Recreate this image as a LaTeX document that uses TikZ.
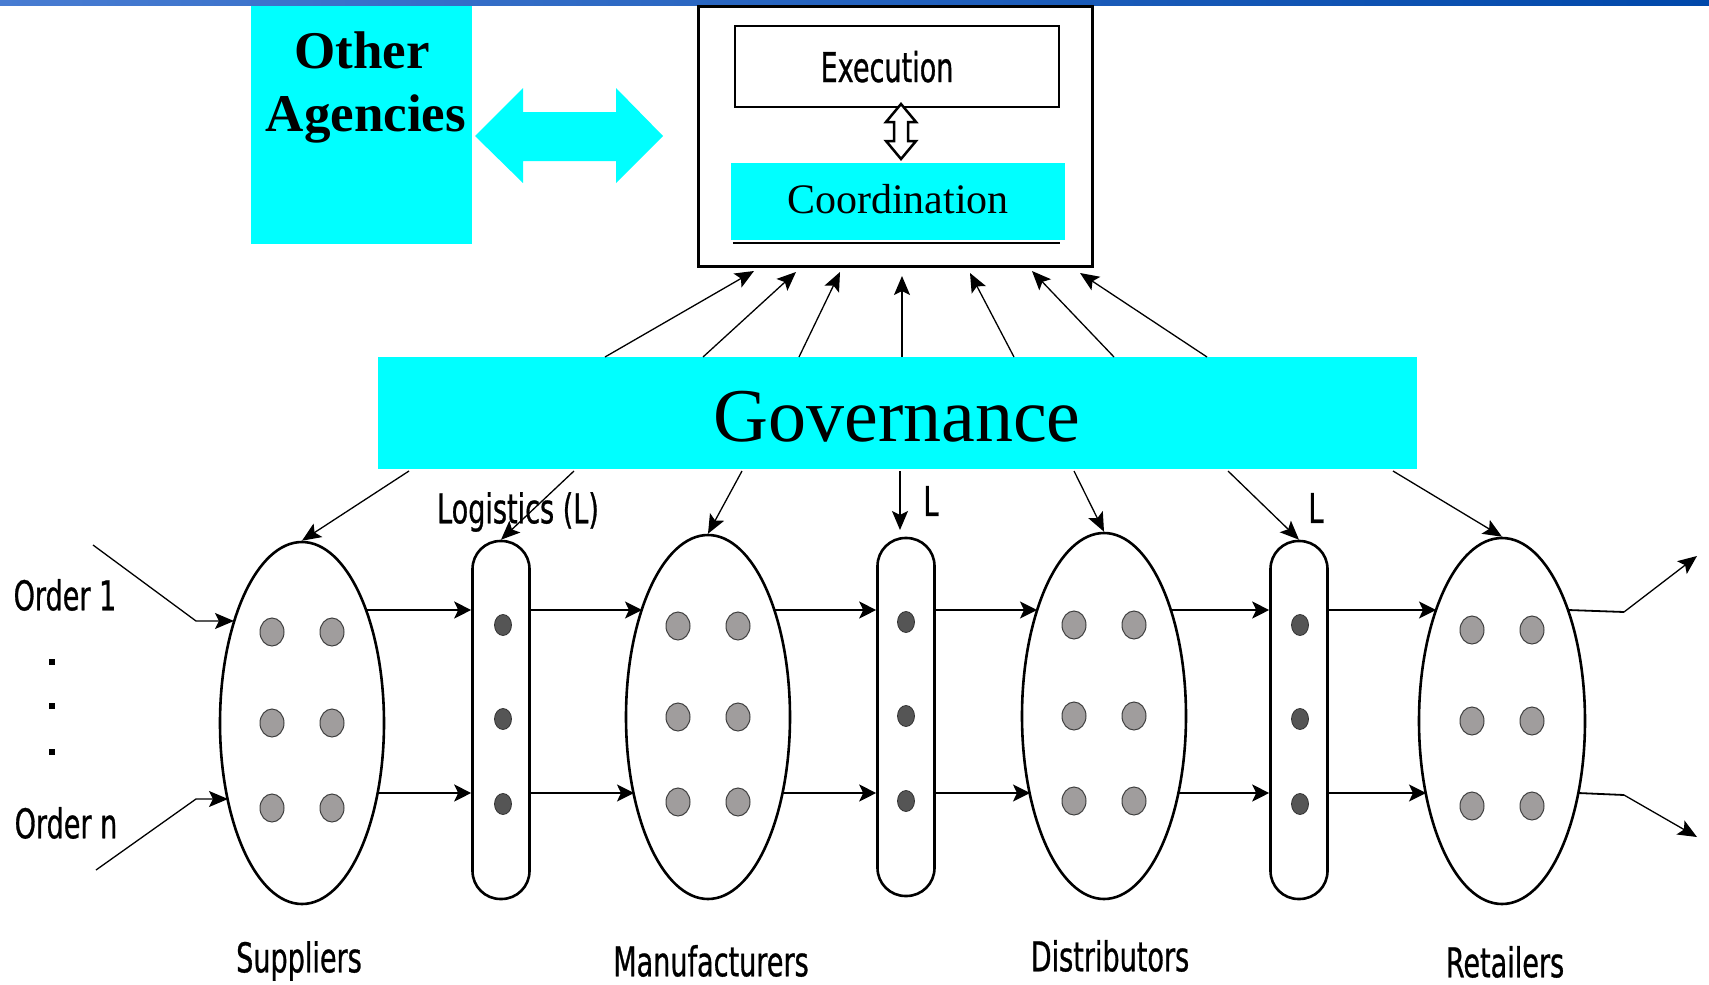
\documentclass[tikz,border=0pt]{standalone}
\usepackage{fontspec}
\setmainfont{Liberation Serif}
\newfontfamily\labelfont[FakeStretch=0.66,FakeBold=0.7]{DejaVu Sans}
\usetikzlibrary{arrows.meta,shapes.geometric}

\definecolor{aqua}{RGB}{0,255,255}
\definecolor{dotlight}{RGB}{160,157,157}
\definecolor{dotdark}{RGB}{85,85,85}
\definecolor{barleft}{RGB}{72,124,210}
\definecolor{barright}{RGB}{0,72,170}

\tikzset{
  flow/.style={line width=1.8pt,-{Stealth[length=17pt,width=17pt,inset=4pt]}},
  ctrl/.style={line width=1.3pt,-{Stealth[length=19pt,width=16pt,inset=4pt]}},
  stage/.style={ellipse,draw,line width=2.6pt,inner sep=0pt},
  pill/.style={rectangle,draw,line width=2.6pt,rounded corners=28pt,inner sep=0pt,
               minimum width=57pt,minimum height=358pt},
  member/.style={fill=dotlight,draw=black!75,line width=1pt},
  carrier/.style={fill=dotdark,draw=black!80,line width=0.8pt},
  sanslbl/.style={font=\labelfont\fontsize{41}{48}\selectfont,inner sep=0pt},
}

\begin{document}
\begin{tikzpicture}[x=1pt,y=-1pt]
\useasboundingbox (0,0) rectangle (1709,985);

% title bar
\shade[left color=barleft,right color=barright] (0,0) rectangle (1709,5);

% other agencies
\node (oa) [rectangle,fill=aqua,minimum width=221pt,minimum height=238pt,inner sep=0pt] at (361.5,124.5) {};
\node[anchor=base,inner sep=0pt,font=\bfseries\fontsize{53}{60}\selectfont] (oa1) at (362,68) {Other};
\node[anchor=base,inner sep=0pt,font=\bfseries\fontsize{53}{60}\selectfont] (oa2) at (366,131) {Agencies};

% link to the control block
\fill[aqua] (475,136) -- (523,88) -- (523,112) -- (616,112) -- (616,88) -- (663,136)
  -- (616,183) -- (616,161) -- (523,161) -- (523,183) -- cycle;

% control block
\node (ctl) [rectangle,draw,line width=3pt,minimum width=394pt,minimum height=260pt,inner sep=0pt] at (895,136.5) {};
\node (exe) [rectangle,draw,line width=2.5pt,minimum width=324pt,minimum height=81pt,inner sep=0pt] at (897,66.5) {};
\node[sanslbl,anchor=base] at (887,82) {Execution};
\node (coo) [rectangle,fill=aqua,minimum width=334pt,minimum height=77pt,inner sep=0pt] at (898,201.5) {};
\node[anchor=base,inner sep=0pt,font=\fontsize{42}{48}\selectfont] at (898,213) {Coordination};
\draw[line width=1.8pt] ([xshift=2pt,yshift=-3pt]coo.south west) -- ([xshift=-5pt,yshift=-3pt]coo.south east);

% hollow two-way arrow between execution and coordination
\draw[line width=2.5pt,fill=white,line join=miter]
  (901,104) -- (916,122) -- (908,122) -- (908,141) -- (916,141) -- (901,159)
  -- (886,141) -- (894,141) -- (894,122) -- (886,122) -- cycle;

% governance
\node (gov) [rectangle,fill=aqua,minimum width=1039pt,minimum height=112pt,inner sep=0pt] at (897.5,413) {};
\node[anchor=base,inner sep=0pt,font=\fontsize{76}{80}\selectfont] at (897,441) {Governance};

% governance reporting upward
\foreach \a/\b/\t in {605/754/271,703/796/272,799/840/272,902/902/276,1014/970/273,1114/1032/271,1207/1080/273}
  \draw[ctrl] (\a,357) -- (\b,\t);

% chain stages
\node (sup) [stage,minimum width=164pt,minimum height=362pt] at (302,723) {};
\node (man) [stage,minimum width=164pt,minimum height=364pt] at (708,717) {};
\node (dis) [stage,minimum width=164pt,minimum height=366pt] at (1104,716) {};
\node (ret) [stage,minimum width=166pt,minimum height=366pt] at (1502,721) {};
\node (lg1) [pill] at (501,720) {};
\node (lg2) [pill] at (906,717) {};
\node (lg3) [pill] at (1299,720) {};

% members of each stage
\foreach \cx/\cy in {302/723,708/717,1104/716,1502/721}{
  \foreach \dy in {-91,0,85}{
    \filldraw[member] (\cx-30,\cy+\dy) ellipse (12pt and 14pt);
    \filldraw[member] (\cx+30,\cy+\dy) ellipse (12pt and 14pt);
  }
}
% carriers
\foreach \cx/\cy in {503/720,906/717,1300/720}{
  \foreach \dy in {-95,-1,84}
    \filldraw[carrier] (\cx,\cy+\dy) ellipse (8.5pt and 10.5pt);
}

% governance directives downward
\draw[ctrl] (409,471) -- (sup.north);
\draw[ctrl] (574,471) -- (lg1.north);
\draw[ctrl] (742,471) -- (man.north);
\draw[ctrl] (900,471) -- (900,530);
\draw[ctrl] (1074,471) -- (dis.north);
\draw[ctrl] (1228,471) -- (lg3.north);
\draw[ctrl] (1393,471) -- (ret.north);

% material flow, two order streams
\draw[flow] (366,610) -- (lg1.west |- 0,610);
\draw[flow] (378,793) -- (lg1.west |- 0,793);
\draw[flow] (lg1.east |- 0,610) -- (642,610);
\draw[flow] (lg1.east |- 0,793) -- (634,793);
\draw[flow] (774,610) -- (lg2.west |- 0,610);
\draw[flow] (782,793) -- (lg2.west |- 0,793);
\draw[flow] (lg2.east |- 0,610) -- (1037,610);
\draw[flow] (lg2.east |- 0,793) -- (1030,793);
\draw[flow] (1171,610) -- (lg3.west |- 0,610);
\draw[flow] (1178,793) -- (lg3.west |- 0,793);
\draw[flow] (lg3.east |- 0,610) -- (1436,610);
\draw[flow] (lg3.east |- 0,793) -- (1426,793);

% outputs
\coordinate (out1) at (1697,556);
\coordinate (out2) at (1697,837);
\draw[line width=1.8pt] (1568,610) -- (1624,612);
\draw[ctrl] (1624,612) -- (out1);
\draw[line width=1.8pt] (1578,793) -- (1624,795);
\draw[ctrl] (1624,795) -- (out2);

% incoming orders
\coordinate (in1) at (93,545);
\coordinate (in2) at (96,870);
\draw[ctrl] (in1) -- (196,621) -- (234,621);
\draw[ctrl] (in2) -- (196,799) -- (228,799);
\node[sanslbl] (o1) at (65,595) {Order 1};
\node[sanslbl] (on) at (66,823) {Order n};
\foreach \y in {662,706,752}
  \fill (49,\y-3) rectangle (55,\y+3);

% labels
\node[sanslbl] at (518,512) {Logistics (L)};
\node[sanslbl] at (931,501) {L};
\node[sanslbl] at (1316,508) {L};
\node[sanslbl] at (299,961) {Suppliers};
\node[sanslbl] at (711,961) {Manufacturers};
\node[sanslbl] at (1110,956) {Distributors};
\node[sanslbl] at (1505,962) {Retailers};
\end{tikzpicture}
\end{document}
